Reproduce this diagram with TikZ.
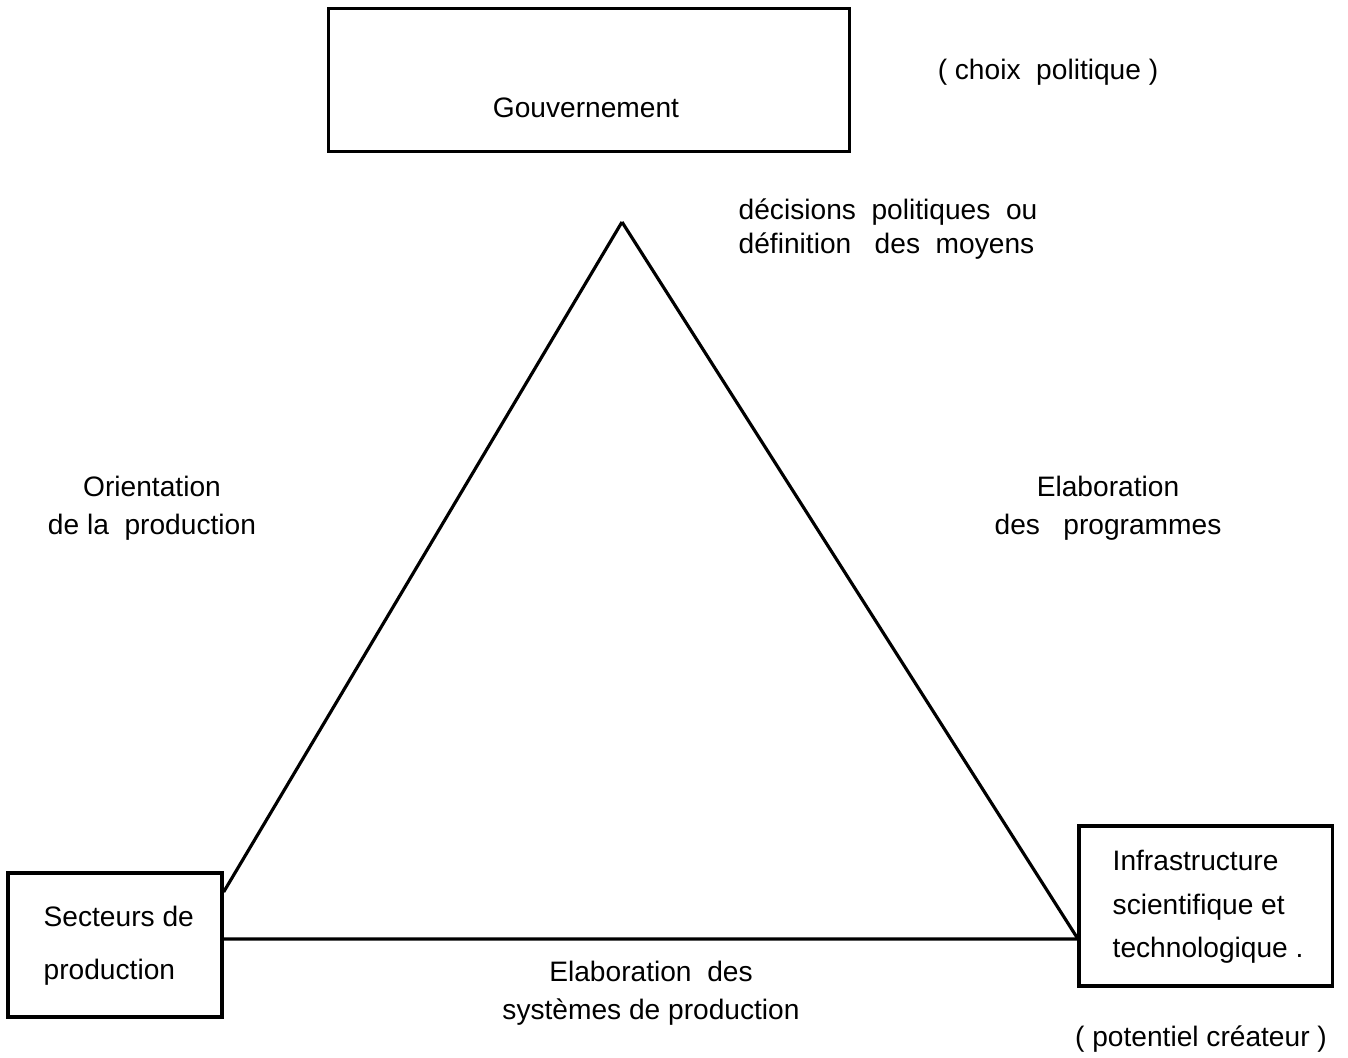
\documentclass[tikz,border=0pt]{standalone}
\usepackage{fontspec}
\setmainfont{Liberation Sans}
\usetikzlibrary{positioning}

\begin{document}
\begin{tikzpicture}[x=0.01cm,y=-0.01cm,
		box/.style={draw, line width=0.9pt, inner sep=0pt}, % the three boxes
		txt/.style={font=\fontsize{8}{10.8}\selectfont, align=center},
		side/.style={line width=0.9pt}]
		\useasboundingbox (0,0) rectangle (1348,1057); % page size
		
		% the three actors
		\node [box, minimum width=5.2cm, minimum height=1.43cm] (gouv) at (589,80) {};
		\node [txt] (gouvtxt) at (586,108) {Gouvernement};
		\node [box, minimum width=2.14cm, minimum height=1.44cm] (sect) at (115,945) {};
		\node [txt, align=left, anchor=west, inner xsep=0pt, font=\fontsize{8}{15}\selectfont] (secttxt) at (43,946) {Secteurs de\\production};
		\node [box, minimum width=2.53cm, minimum height=1.6cm] (infra) at (1205.5,906) {};
		\node [txt, align=left, anchor=west, inner xsep=0pt, font=\fontsize{8}{12.4}\selectfont] (infratxt) at (1112,907) {Infrastructure\\scientifique et\\technologique .};
		
		% the triangle
		\coordinate (apex) at (622,222);
		\draw [side] (apex) -- ([yshift=0.53cm]sect.east);
		\draw [side] (apex) -- ([yshift=-0.32cm]infra.west);
		\draw [side] ([yshift=0.06cm]sect.east) -- ([yshift=-0.33cm]infra.west);
		
		% labels
		\node [txt] (choix) at (1048,72) {( choix\ \ politique )};
		\node [txt, align=left, anchor=west, inner xsep=0pt, font=\fontsize{8}{9.6}\selectfont] (decis) at (738,229) {décisions\ \ politiques\ \ ou\\définition\ \ \ des\ \ moyens};
		\node [txt] (orient) at (152,508) {Orientation\\de la\ \ production};
		\node [txt] (elabprog) at (1108,508) {Elaboration\\des\ \ \ programmes};
		\node [txt] (elabsys) at (651,993) {Elaboration\ \ des\\systèmes\ de\ production};
		\node [txt] (potent) at (1201,1039) {( potentiel créateur )};
\end{tikzpicture}
\end{document}
